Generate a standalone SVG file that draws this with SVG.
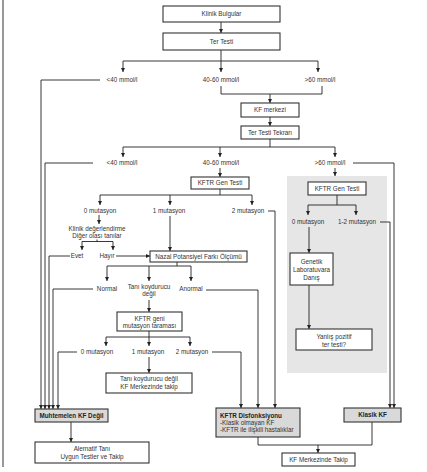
<svg xmlns="http://www.w3.org/2000/svg" width="427" height="472" viewBox="0 0 427 472">
<defs>
<marker id="ah" markerWidth="4" markerHeight="4" refX="4" refY="2" orient="auto" markerUnits="userSpaceOnUse"><path d="M0,0 L4,2 L0,4 z" fill="#222"/></marker>
<style>
text{font-family:"Liberation Sans",Arial,sans-serif;font-size:6.3px;fill:#333;text-anchor:middle}
.b{font-weight:bold;fill:#222}
.l{text-anchor:start}
rect{fill:#fff;stroke:#333;stroke-width:1.1}
rect.g{fill:#d9d9d9}
rect.panel{fill:#e6e6e6;stroke:none}
#connectors path{fill:none;stroke:#222;stroke-width:0.9}
#connectors path.a{marker-end:url(#ah)}
</style>
</defs>
<rect x="0" y="0" width="427" height="472" style="fill:#fff;stroke:none"/>
<line x1="3" y1="0" x2="3" y2="467" stroke="#333" stroke-width="1"/>
<rect class="panel" x="287" y="176" width="100" height="197"/>

<g id="connectors">
<path class="a" d="M221,22 V33"/>
<path d="M221,50 V61 M123,61 H318"/>
<path class="a" d="M123,61 V72"/><path class="a" d="M221,61 V72"/><path class="a" d="M318,61 V72"/>
<path class="a" d="M100,80 H41 V409"/>
<path d="M221,86 V94 H322 V86"/>
<path class="a" d="M270,94 V103"/>
<path class="a" d="M270,117 V126"/>
<path d="M270,139 V147 M123,147 H335"/>
<path class="a" d="M123,147 V157"/><path class="a" d="M220,147 V157"/><path class="a" d="M335,147 V157"/>
<path class="a" d="M93,163 H45 V409"/>
<path class="a" d="M220,168 V177"/>
<path class="a" d="M353,163 H394 V408"/>
<path class="a" d="M335,168 V176"/>
<path d="M220,189 V195 M100,195 H252"/>
<path class="a" d="M100,195 V205"/><path class="a" d="M170,195 V205"/><path class="a" d="M252,195 V205"/>
<path class="a" d="M268,211 H275 V408"/>
<path class="a" d="M170,216 V251"/>
<path class="a" d="M99,215 V224"/>
<path d="M97,239.5 V241.5 M82,241.5 H113"/>
<path class="a" d="M82,241.5 V250"/><path class="a" d="M113,241.5 V250"/>
<path class="a" d="M70,256 H49 V409"/>
<path class="a" d="M116,256 H150"/>
<path d="M337,195 V205 M308,205 H356"/>
<path class="a" d="M308,205 V215"/><path class="a" d="M356,205 V215"/>
<path class="a" d="M380,222 H390 V408"/>
<path class="a" d="M309,227 V253"/>
<path class="a" d="M309,285 V329"/>
<path d="M177,262 V266 M107,266 H191"/>
<path class="a" d="M107,266 V281"/><path class="a" d="M149,266 V281"/><path class="a" d="M191,266 V281"/>
<path class="a" d="M93,289 H53 V409"/>
<path class="a" d="M206,290 H258 V408"/>
<path class="a" d="M149,300 V312"/>
<path d="M149,331 V337 M106,337 H190"/>
<path class="a" d="M106,337 V346"/><path class="a" d="M149,337 V346"/><path class="a" d="M190,337 V346"/>
<path class="a" d="M77,352 H58 V409"/>
<path class="a" d="M212,352 H241 V408"/>
<path class="a" d="M149,357 V373"/>
<path class="a" d="M71,422 V442"/>
<path d="M258,437 V445 H372 V422"/>
<path class="a" d="M318,445 V453"/>
</g>

<g id="n-klinik"><rect x="163" y="6" width="117" height="16"/><text x="221.5" y="16.3">Klinik Bulgular</text></g>
<g id="n-ter"><rect x="163" y="33" width="117" height="17"/><text x="221.5" y="43.8">Ter Testi</text></g>
<g id="n-l1a"><text x="122" y="82.3">&lt;40 mmol/l</text></g>
<g id="n-l1b"><text x="221" y="82.3">40-60 mmol/l</text></g>
<g id="n-l1c"><text x="320" y="82.3">&gt;60 mmol/l</text></g>
<g id="n-kfmerkezi"><rect x="241" y="103" width="58" height="14"/><text x="270" y="112.3">KF merkezi</text></g>
<g id="n-tekrar"><rect x="241" y="126" width="58" height="13"/><text x="270" y="134.8">Ter Testi Tekrarı</text></g>
<g id="n-l2a"><text x="122" y="165.3">&lt;40 mmol/l</text></g>
<g id="n-l2b"><text x="221" y="165.3">40-60 mmol/l</text></g>
<g id="n-l2c"><text x="330" y="165.3">&gt;60 mmol/l</text></g>
<g id="n-gen1"><rect x="191" y="177" width="58" height="12"/><text x="220" y="185.3">KFTR Gen Testi</text></g>
<g id="n-gen2"><rect x="308" y="182" width="58" height="13"/><text x="337" y="190.8">KFTR Gen Testi</text></g>
<g id="n-m0"><text x="100" y="213.3">0 mutasyon</text></g>
<g id="n-m1"><text x="169" y="213.3">1 mutasyon</text></g>
<g id="n-m2"><text x="248" y="213.3">2 mutasyon</text></g>
<g id="n-g0"><text x="308" y="224.3">0 mutasyon</text></g>
<g id="n-g12"><text x="357" y="224.3">1-2 mutasyon</text></g>
<g id="n-klinikdeg"><text x="97" y="231.3">Klinik değerlendirme</text><text x="97" y="237.5">Diğer olası tanılar</text></g>
<g id="n-evet"><text x="77" y="258.3">Evet</text></g>
<g id="n-hayir"><text x="107" y="258.3">Hayır</text></g>
<g id="n-nazal"><rect x="150" y="251" width="97" height="11"/><text x="198.5" y="258.6">Nazal Potansiyel Farkı Ölçümü</text></g>
<g id="n-genetik"><rect x="290" y="253" width="43" height="32"/><text x="311.5" y="264.3">Genetik</text><text x="311.5" y="272.3">Laboratuvara</text><text x="311.5" y="280.3">Danış</text></g>
<g id="n-normal"><text x="107" y="291.3">Normal</text></g>
<g id="n-tanikoy"><text x="149" y="289.3">Tanı koydurucu</text><text x="149" y="296.3">değil</text></g>
<g id="n-anormal"><text x="191" y="291.3">Anormal</text></g>
<g id="n-kftrgeni"><rect x="117" y="312" width="65" height="19"/><text x="149.5" y="320.5">KFTR geni</text><text x="149.5" y="328">mutasyon taraması</text></g>
<g id="n-yanlis"><rect x="296" y="329" width="76" height="21"/><text x="334" y="339">Yanlış pozitif</text><text x="334" y="347">ter testi?</text></g>
<g id="n-t0"><text x="97" y="354.3">0 mutasyon</text></g>
<g id="n-t1"><text x="148" y="354.3">1 mutasyon</text></g>
<g id="n-t2"><text x="192" y="354.3">2 mutasyon</text></g>
<g id="n-tani"><rect x="106" y="373" width="86" height="20"/><text x="149" y="381.3">Tanı koydurucu değil</text><text x="149" y="389.3">KF Merkezinde takip</text></g>
<g id="n-muhtemelen"><rect class="g" x="35" y="409" width="73" height="13"/><text class="b" x="71.5" y="417.8">Muhtemelen KF Değil</text></g>
<g id="n-kftrdis"><rect class="g" x="216" y="408" width="84" height="29"/><text class="b l" x="220" y="418">KFTR Disfonksiyonu</text><text class="l" x="220" y="425.3">-Klasik olmayan KF</text><text class="l" x="220" y="432.3">-KFTR ile ilişkili hastalıklar</text></g>
<g id="n-klasik"><rect class="g" x="344" y="408" width="57" height="14"/><text class="b" x="372.5" y="417.3">Klasik KF</text></g>
<g id="n-alternatif"><rect x="35" y="442" width="114" height="21"/><text x="92" y="451">Alernatif Tanı</text><text x="92" y="459">Uygun Testler ve Takip</text></g>
<g id="n-takip"><rect x="282" y="453" width="73" height="13"/><text x="318.5" y="461.8">KF Merkezinde Takip</text></g>
</svg>
